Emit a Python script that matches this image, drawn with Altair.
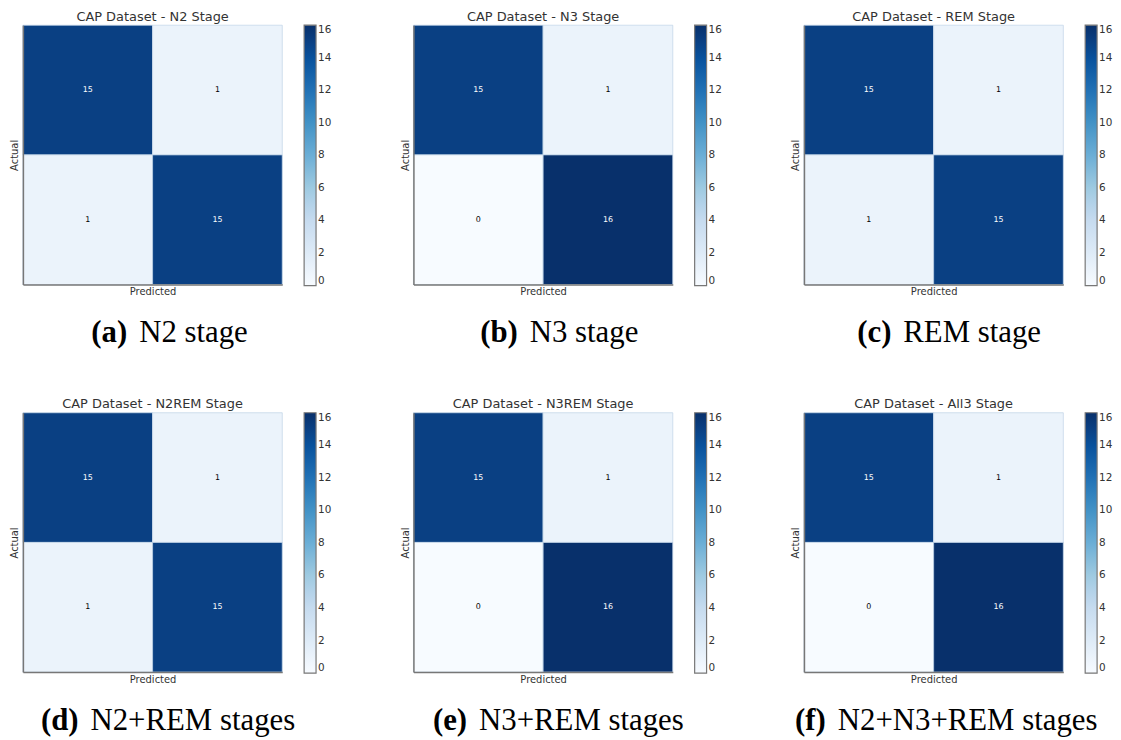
import altair as alt
import pandas as pd

# ---- data ----
titles = ["CAP Dataset - N2 Stage", "CAP Dataset - N3 Stage", "CAP Dataset - REM Stage",
          "CAP Dataset - N2REM Stage", "CAP Dataset - N3REM Stage", "CAP Dataset - All3 Stage"]
letters = ["(a)", "(b)", "(c)", "(d)", "(e)", "(f)"]
captions = ["N2 stage", "N3 stage", "REM stage", "N2+REM stages", "N3+REM stages", "N2+N3+REM stages"]
# confusion matrices [[TN, FP], [FN, TP]] (rows = actual, cols = predicted)
matrices = [
    [[15, 1], [1, 15]],
    [[15, 1], [0, 16]],
    [[15, 1], [1, 15]],
    [[15, 1], [1, 15]],
    [[15, 1], [0, 16]],
    [[15, 1], [0, 16]],
]
cbar_ticks = [0, 2, 4, 6, 8, 10, 12, 14, 16]

# ---- layout constants ----
W = 261
H = 261
caption_gap = [111, 111, 94, 62, 60, 28]  # x of gap between bold label and caption text
blues = ["#f7fbff", "#deebf7", "#c6dbef", "#9ecae1", "#6baed6",
         "#4292c6", "#2171b5", "#08519c", "#08306b"]

panels = []
for i in range(6):
    rows = []
    for a in range(2):
        for p in range(2):
            rows.append({"actual": a, "predicted": p, "v": matrices[i][a][p]})
    df = pd.DataFrame(rows)

    x = alt.X("predicted:O", scale=alt.Scale(paddingInner=0, paddingOuter=0),
              axis=alt.Axis(title="Predicted", labels=False, ticks=False,
                            domainColor="#777777", domainWidth=1.5,
                            titleFontSize=10, titleColor="#333333",
                            titleFont="DejaVu Sans", titleFontWeight="normal",
                            titlePadding=2))
    y = alt.Y("actual:O", scale=alt.Scale(paddingInner=0, paddingOuter=0),
              axis=alt.Axis(title="Actual", labels=False, ticks=False,
                            domainColor="#777777", domainWidth=1.5,
                            titleFontSize=10, titleColor="#333333",
                            titleFont="DejaVu Sans", titleFontWeight="normal",
                            titlePadding=3))

    base = alt.Chart(df)
    rect = base.mark_rect(stroke="#c5d6e8", strokeWidth=0.8).encode(
        x=x, y=y,
        color=alt.Color("v:Q",
                        scale=alt.Scale(domain=[0, 2, 4, 6, 8, 10, 12, 14, 16], range=blues),
                        legend=alt.Legend(title=None, values=cbar_ticks)),
    )
    txt = base.mark_text(fontSize=8, font="DejaVu Sans").encode(
        x=x, y=y,
        text="v:Q",
        color=alt.condition("datum.v > 8", alt.value("white"), alt.value("black")),
    )
    capdf = pd.DataFrame({"l": [letters[i]], "c": [captions[i]]})
    cap1 = alt.Chart(capdf).mark_text(font="Liberation Serif", fontSize=31, fontWeight="bold",
                                      align="right", baseline="alphabetic", color="black").encode(
        text="l:N", x=alt.value(caption_gap[i] - 6), y=alt.value(H + 58))
    cap2 = alt.Chart(capdf).mark_text(font="Liberation Serif", fontSize=31,
                                      align="left", baseline="alphabetic", color="black").encode(
        text="c:N", x=alt.value(caption_gap[i] + 6), y=alt.value(H + 58))

    panel = alt.layer(rect, txt, cap1, cap2).properties(
        width=W, height=H,
        title=alt.Title(titles[i], fontSize=13, font="DejaVu Sans", fontWeight="normal",
                        color="#333333", offset=1),
    )
    panels.append(panel)

chart = alt.concat(*panels, columns=3, spacing={"row": 50, "column": 69}).resolve_scale(
    color="independent").resolve_legend(color="independent").configure_view(
    stroke=None).configure_legend(
    gradientLength=262, gradientThickness=12, gradientStrokeColor="#777777",
    gradientStrokeWidth=1.2, labelFontSize=10.5, labelFont="DejaVu Sans",
    labelColor="#333333", offset=22, labelOverlap=False, padding=0,
).properties(padding={"left": 2, "top": 0, "right": 0, "bottom": 0}, background="white")

chart.save("out.html", embed_options={"renderer": "svg", "actions": False})
